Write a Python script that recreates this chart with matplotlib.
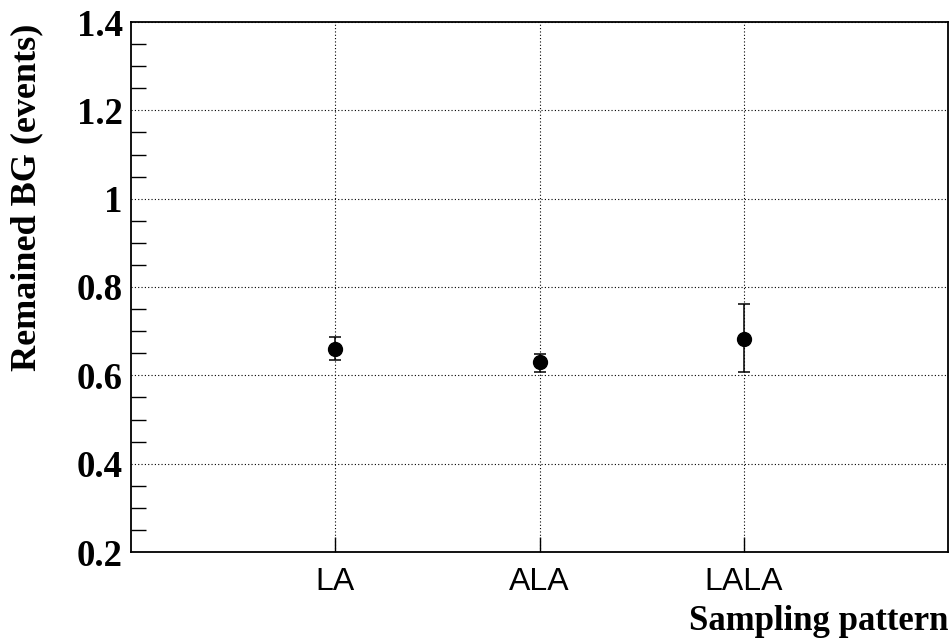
import matplotlib
matplotlib.use("Agg")
import matplotlib.pyplot as plt
from matplotlib.ticker import MultipleLocator, FixedLocator

patterns = ["LA", "ALA", "LALA"]
remained_bg = [0.66, 0.63, 0.683]
bg_err_up = [0.026, 0.019, 0.078]
bg_err_down = [0.025, 0.022, 0.076]

fig = plt.figure(figsize=(9.52, 6.41), dpi=100)
ax = fig.add_axes([131 / 952, 1 - 552 / 641, (948 - 131) / 952, (552 - 22) / 641])

xpos = list(range(1, len(patterns) + 1))
ax.errorbar(xpos, remained_bg, yerr=[bg_err_down, bg_err_up], fmt="o", color="black",
            markersize=10, elinewidth=1.1, capsize=4, capthick=1.1, zorder=5)

ax.set_xlim(0, len(patterns) + 1)
ax.set_ylim(0.2, 1.4)

ax.xaxis.set_major_locator(FixedLocator(xpos))
ax.set_xticks(xpos)
ax.set_xticklabels(patterns, fontfamily="Liberation Sans", fontsize=23)
ax.tick_params(axis="x", direction="in", length=11, width=1, pad=11, top=False)

ax.yaxis.set_minor_locator(MultipleLocator(0.05))
ax.set_yticks([0.2, 0.4, 0.6, 0.8, 1.0, 1.2, 1.4])
ax.set_yticklabels(["0.2", "0.4", "0.6", "0.8", "1", "1.2", "1.4"],
                   fontfamily="Liberation Serif", fontweight="bold", fontsize=26.5)
ax.tick_params(axis="y", which="major", direction="in", length=0, width=1, pad=6, right=False)
ax.tick_params(axis="y", which="minor", direction="in", length=11, width=1, right=False)

ax.grid(True, which="major", linestyle=(0, (1, 2)), color="black", linewidth=0.8)

for s in ax.spines.values():
    s.set_linewidth(1.3)

fig.text(948 / 952, 1 - 621 / 641, "Sampling pattern", ha="right", va="center",
         fontfamily="Liberation Serif", fontweight="bold", fontsize=25)
fig.text(27 / 952, 1 - 24 / 641, "Remained BG (events)", ha="center", va="top",
         rotation=90, fontfamily="Liberation Serif", fontweight="bold", fontsize=26)

fig.savefig("out.png", dpi=100)
